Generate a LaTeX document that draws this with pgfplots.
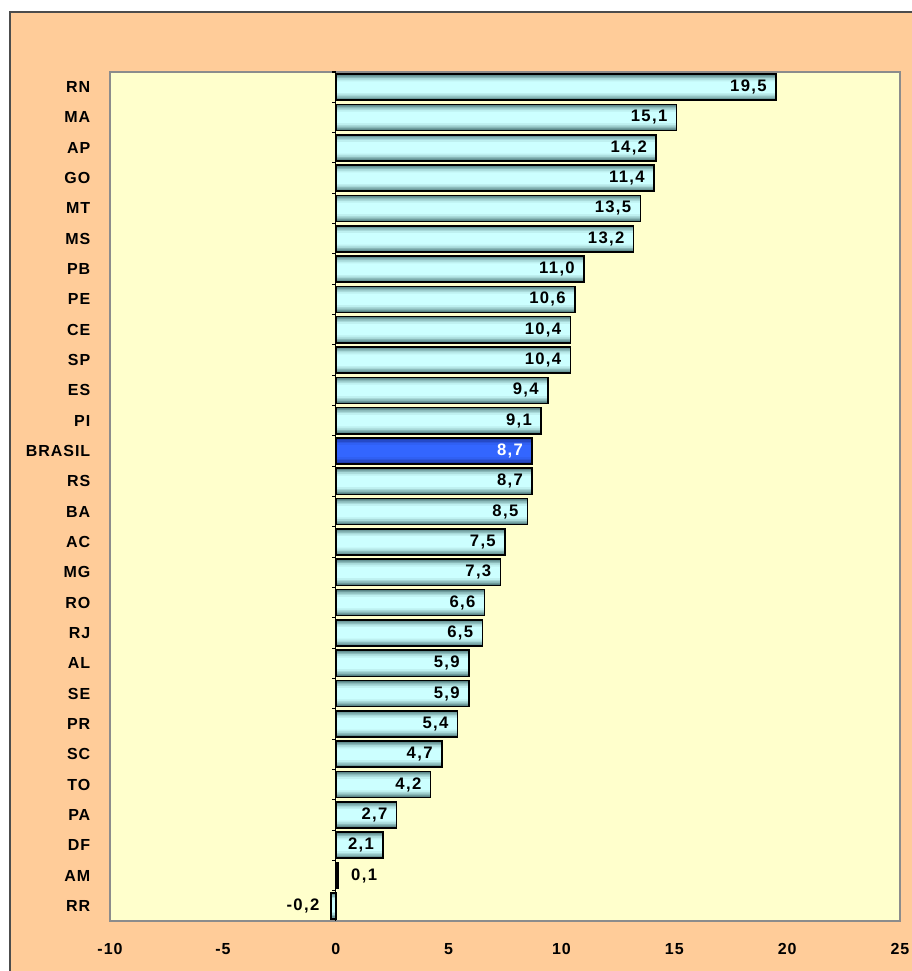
\documentclass[border=0pt]{standalone}
\usepackage{pgfplots}
\pgfplotsset{compat=1.18}
\usepackage{pgfplotstable}
\usepackage{fontspec}
\setmainfont{Liberation Sans}
\newfontfamily\lsf[LetterSpace=6]{Liberation Sans}
\newfontfamily\bsf[LetterSpace=8]{Liberation Sans}
\definecolor{peach}{HTML}{FFCC99}
\definecolor{plotbg}{HTML}{FFFFCC}
\definecolor{barlight}{HTML}{CCFFFF}
\definecolor{bardark}{HTML}{547F80}
\definecolor{bluemid}{HTML}{3366FF}
\definecolor{bluedark}{HTML}{1A3399}

\pgfplotstableread{
y x lab
2 2.1 2,1
3 2.7 2,7
4 4.2 4,2
5 4.7 4,7
6 5.4 5,4
7 5.9 5,9
8 5.9 5,9
9 6.5 6,5
10 6.6 6,6
11 7.3 7,3
12 7.5 7,5
13 8.5 8,5
14 8.7 8,7
16 9.1 9,1
17 9.4 9,4
18 10.4 10,4
19 10.4 10,4
20 10.6 10,6
21 11.0 11,0
22 13.2 13,2
23 13.5 13,5
24 14.1 11,4
25 14.2 14,2
26 15.1 15,1
27 19.5 19,5
}\maindata
\pgfplotstableread{
y x lab
15 8.7 8,7
}\brasildata
\pgfplotstableread{
y x lab
1 0.1 0,1
}\amdata
\pgfplotstableread{
y x lab
0 -0.2 -0,2
}\rrdata

% stepped vertical gradient: dark edges, light centre
\newcommand\gradbars[3]{%
  \addplot[fill=#2, draw=none, bar width=0.86] table[x=x, y=y] {#1};
  \addplot[fill=#3!22!#2, draw=none, bar width=0.78] table[x=x, y=y] {#1};
  \addplot[fill=#3!45!#2, draw=none, bar width=0.70] table[x=x, y=y] {#1};
  \addplot[fill=#3!70!#2, draw=none, bar width=0.60] table[x=x, y=y] {#1};
  \addplot[fill=#3!88!#2, draw=none, bar width=0.50] table[x=x, y=y] {#1};
  \addplot[fill=#3, draw=none, bar width=0.38] table[x=x, y=y] {#1};
}

\begin{document}
\begin{tikzpicture}
\fill[white] (0,0) rectangle (683.25pt,728.25pt);
\fill[peach, draw=black!70, line width=1.5pt] (7.5pt,-10pt) rectangle (700pt,719.25pt);
\begin{axis}[
  at={(82.5pt,37.5pt)}, anchor=south west, scale only axis,
  width=592.5pt, height=636.75pt,
  xbar, bar width=0.86, bar shift=0pt,
  xmin=-10, xmax=25, ymin=-0.5, ymax=27.5,
  xtick={-10,-5,0,5,10,15,20,25},
  ytick={0,...,27},
  yticklabels={RR,AM,DF,PA,TO,SC,PR,SE,AL,RJ,RO,MG,AC,BA,RS,BRASIL,PI,ES,SP,CE,PE,PB,MS,MT,GO,AP,MA,RN},
  axis background/.style={fill=plotbg},
  axis line style={draw=black!45, line width=0.9pt},
  tick style={draw=none},
  /pgf/number format/assume math mode=true,
  ticklabel style={font=\lsf\bfseries\fontsize{12}{14}\selectfont},
  xticklabel style={yshift=-13pt},
  yticklabel style={xshift=-7pt},
  clip=false,
]
\gradbars{\maindata}{bardark}{barlight}
\gradbars{\brasildata}{bluedark}{bluemid}
\gradbars{\amdata}{bardark}{barlight}
\gradbars{\rrdata}{bardark}{barlight}
\addplot[fill=none, draw=black, line width=1.2pt, point meta=explicit symbolic,
  nodes near coords, every node near coord/.append style={anchor=east, xshift=-3pt, text=black, font=\bsf\bfseries\fontsize{12.5}{14}\selectfont}]
  table[x=x, y=y, meta=lab] {\maindata};
\addplot[fill=none, draw=black, line width=1.2pt, point meta=explicit symbolic,
  nodes near coords, every node near coord/.append style={anchor=east, xshift=-3pt, text=white, font=\bsf\bfseries\fontsize{12.5}{14}\selectfont}]
  table[x=x, y=y, meta=lab] {\brasildata};
\addplot[fill=none, draw=black, line width=1.2pt, point meta=explicit symbolic,
  nodes near coords, every node near coord/.append style={anchor=west, xshift=6pt, text=black, font=\bsf\bfseries\fontsize{12.5}{14}\selectfont}]
  table[x=x, y=y, meta=lab] {\amdata};
\addplot[fill=none, draw=black, line width=1.2pt, point meta=explicit symbolic,
  nodes near coords, every node near coord/.append style={anchor=east, xshift=-5pt, text=black, font=\bsf\bfseries\fontsize{12.5}{14}\selectfont}]
  table[x=x, y=y, meta=lab] {\rrdata};
\draw[black, line width=0.8pt] (axis cs:0,-0.5) -- (axis cs:0,27.5);
\pgfplotsinvokeforeach{0,...,27}{
  \draw[black, line width=0.8pt] (axis cs:0,#1+0.5) -- ([xshift=-3pt]axis cs:0,#1+0.5);
}
\end{axis}
\pgfresetboundingbox
\useasboundingbox (0,0) rectangle (683.25pt,728.25pt);
\end{tikzpicture}
\end{document}
